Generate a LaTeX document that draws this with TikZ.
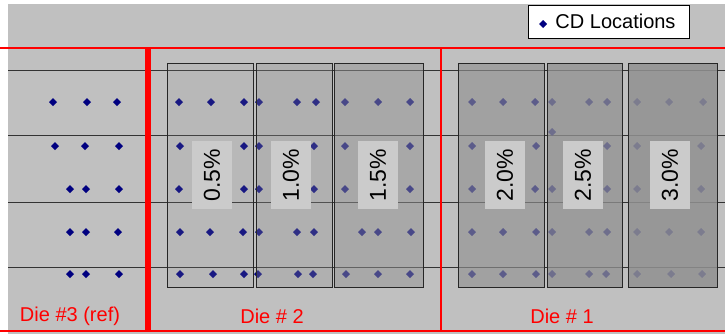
\documentclass[tikz,border=0pt]{standalone}
\usepackage{fontspec}
\setmainfont{Liberation Sans}
\usepackage{tikz}
\usetikzlibrary{calc}
\definecolor{cdblue}{HTML}{000080}
\definecolor{chartgray}{HTML}{C0C0C0}
\definecolor{shadegray}{HTML}{919191}
\definecolor{tagfill}{HTML}{CBCBCB}
\tikzset{
  dieline/.style={draw=red,line width=2.8pt},
  gridline/.style={draw=black!80,line width=0.9pt},
  shadebox/.style={fill=shadegray,draw=black!85,line width=0.9pt},
  pcttag/.style={fill=tagfill,rotate=90,inner sep=0pt,minimum width=68pt,minimum height=40pt,
    font=\fontsize{23}{26}\selectfont},
  dietag/.style={text=red,inner sep=0pt,font=\fontsize{20}{24}\selectfont},
  legendbox/.style={fill=white,draw=black,line width=0.9pt,inner sep=0pt,minimum width=161pt,
    minimum height=33pt,font=\fontsize{20}{24}\selectfont}
}
% one row of CD marks: #1 = y, #2 = list of x
\newcommand\cdrow[2]{%
  \foreach \xx in {#2} {
    \fill[cdblue] (\xx,#1) +(0,-4) -- +(4,0) -- +(0,4) -- +(-4,0) -- cycle;
  }
}

\begin{document}
\begin{tikzpicture}[x=1pt,y=-1pt]
\useasboundingbox (0,0) rectangle (725,333);
\clip (0,0) rectangle (725,333);
\fill[white] (0,0) rectangle (725,333);
\fill[chartgray] (8,4) rectangle (727,335);

% grid
\foreach \yy in {70,135,202,267}
  \draw[gridline] (8,\yy) -- (727,\yy);

% die #3
\cdrow{102}{53,87,117}
\cdrow{146}{55,85,119}
\cdrow{189}{70,86,119}
\cdrow{232}{70,86,118}
\cdrow{274}{70,86,119}
% die #2
\cdrow{102}{179,211,244,259,297,316,345,378,410}
\cdrow{146}{180,244,259,314,345,410}
\cdrow{189}{179,244,259,314,345,410}
\cdrow{232}{180,210,243,259,297,314,362,378,411}
\cdrow{274}{180,213,244,258,298,313,346,378,410}
% die #1
\cdrow{102}{472,503,535,552,589,607,637,669,703}
\cdrow{132}{552}
\cdrow{146}{472,536,607,637,701}
\cdrow{189}{472,535,552,607,637,701}
\cdrow{232}{472,503,536,552,589,607,637,669,701}
\cdrow{274}{472,503,536,552,589,606,637,671,702}

% shaded exposure fields
\foreach \xa/\xb/\op in {167/253/0.17,256/332/0.33,334/423/0.5,458/544/0.64,547/622/0.76,628/717/0.86}
  \filldraw[shadebox,fill opacity=\op] (\xa,63) rectangle (\xb,287);

\foreach \xc/\pct/\nm in {212/0.5/a,291/1.0/b,378/1.5/c,505/2.0/d,583/2.5/e,670/3.0/f}
  \node[pcttag] (tag-\nm) at (\xc,175) {\pct\%};

% die frames
\draw[dieline] (-10,48) rectangle (146.5,331);
\draw[dieline] (149.5,48) rectangle (441,331);
\draw[dieline] (441,48) rectangle (740,331);

\node[dietag] (die3) at (70,316) {Die \#3 (ref)};
\node[dietag] (die2) at (272,316) {Die \# 2};
\node[dietag] (die1) at (562,316) {Die \# 1};

% legend
\node[legendbox] (legend) at (608.5,21.5) {\hspace*{14pt}CD Locations};
\cdrow{24}{543}
\end{tikzpicture}
\end{document}
